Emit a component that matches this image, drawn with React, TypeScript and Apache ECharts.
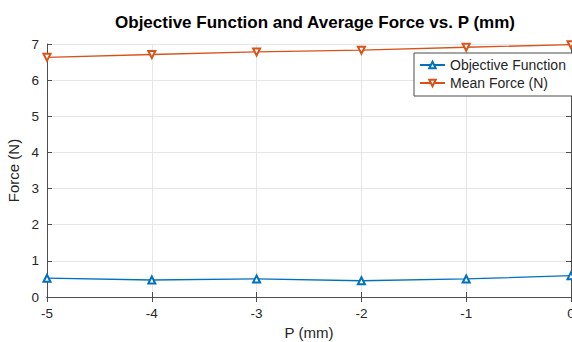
import React, { useEffect, useRef } from "react";
import * as echarts from "echarts";

const pValues = [-5, -4, -3, -2, -1, 0];
const objectiveFunction = [0.52, 0.47, 0.5, 0.45, 0.5, 0.59];
const meanForce = [6.63, 6.71, 6.78, 6.83, 6.91, 6.98];
const xTicks = [-5, -4, -3, -2, -1, 0];
const yTicks = [0, 1, 2, 3, 4, 5, 6, 7];

const BLUE = "#0072BD";
const ORANGE = "#D95319";
const AXIS = "#4d4d4d";
const FONT = "Liberation Sans, Arial, sans-serif";

export default function App() {
  const ref = useRef<HTMLDivElement>(null);
  useEffect(() => {
    if (!ref.current) return;
    const chart = echarts.init(ref.current, undefined, { renderer: "svg" });
    const boxAxisCommon = {
      axisLine: { show: true, lineStyle: { color: AXIS, width: 1 } },
      axisTick: { show: true, inside: true, length: 5, lineStyle: { color: AXIS } },
      axisLabel: { show: false },
      splitLine: { show: false },
    };
    chart.setOption({
      animation: false,
      backgroundColor: "#fff",
      textStyle: { fontFamily: FONT },
      title: {
        text: "Objective Function and Average Force vs. P (mm)",
        left: 310,
        top: 9,
        textAlign: "center",
        textStyle: { fontSize: 17, fontWeight: "bold", color: "#000", fontFamily: FONT },
      },
      grid: {
        left: 47,
        right: 1,
        top: 44,
        bottom: 45,
        containLabel: false,
        outerBoundsMode: "none",
      },
      legend: {
        orient: "vertical",
        left: 414,
        top: 53,
        backgroundColor: "#fff",
        borderColor: AXIS,
        borderWidth: 1,
        borderRadius: 0,
        padding: [5, 14, 6, 5],
        itemGap: 4,
        itemWidth: 25,
        itemHeight: 8,
        textStyle: { fontSize: 14, color: "#262626", fontFamily: FONT },
        data: ["Objective Function", "Mean Force (N)"],
      },
      xAxis: [
        {
          type: "value",
          min: -5,
          max: 0,
          interval: 1,
          name: "P (mm)",
          nameLocation: "middle",
          nameGap: 21,
          nameTextStyle: { fontSize: 15, color: "#262626", fontFamily: FONT },
          axisLine: { show: true, onZero: false, lineStyle: { color: AXIS, width: 1 } },
          axisTick: { show: true, inside: true, length: 5, lineStyle: { color: AXIS } },
          axisLabel: {
            fontSize: 13.5,
            color: "#262626",
            margin: 9,
            formatter: (v: number) => (xTicks.includes(v) ? String(v) : ""),
          },
          splitLine: { show: true, lineStyle: { color: "#e6e6e6", width: 1 } },
        },
        { type: "value", position: "top", min: -5, max: 0, interval: 1, ...boxAxisCommon },
      ],
      yAxis: [
        {
          type: "value",
          min: 0,
          max: 7,
          interval: 1,
          name: "Force (N)",
          nameLocation: "middle",
          nameGap: 23,
          nameTextStyle: { fontSize: 15, color: "#262626", fontFamily: FONT },
          axisLine: { show: true, onZero: false, lineStyle: { color: AXIS, width: 1 } },
          axisTick: { show: true, inside: true, length: 5, lineStyle: { color: AXIS } },
          axisLabel: {
            fontSize: 13.5,
            color: "#262626",
            margin: 8,
            formatter: (v: number) => (yTicks.includes(v) ? String(v) : ""),
          },
          splitLine: { show: true, lineStyle: { color: "#e6e6e6", width: 1 } },
        },
        { type: "value", position: "right", min: 0, max: 7, interval: 1, ...boxAxisCommon },
      ],
      series: [
        {
          name: "Objective Function",
          type: "line",
          data: pValues.map((p, i) => [p, objectiveFunction[i]]),
          color: BLUE,
          symbol: "emptyTriangle",
          symbolSize: 7,
          lineStyle: { width: 1.3, color: BLUE },
          itemStyle: { color: BLUE, borderWidth: 1.2 },
        },
        {
          name: "Mean Force (N)",
          type: "line",
          data: pValues.map((p, i) => [p, meanForce[i]]),
          color: ORANGE,
          symbol: "emptyTriangle",
          symbolRotate: 180,
          symbolSize: 7,
          lineStyle: { width: 1.3, color: ORANGE },
          itemStyle: { color: ORANGE, borderWidth: 1.2 },
        },
      ],
    });
    return () => chart.dispose();
  }, []);
  return (
    <div
      ref={ref}
      style={{ position: "fixed", left: 0, top: 0, width: 572, height: 342 }}
    />
  );
}
